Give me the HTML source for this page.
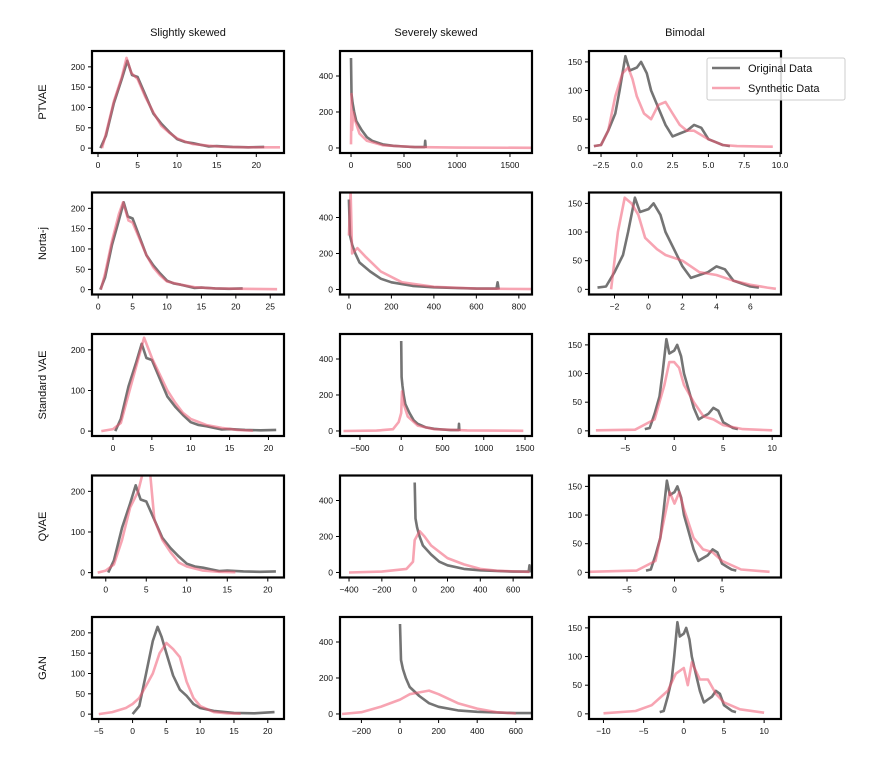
<!DOCTYPE html>
<html><head><meta charset="utf-8">
<style>
body{margin:0;background:#fff;}
svg{display:block;font-family:"Liberation Sans","DejaVu Sans",sans-serif;}
</style></head>
<body>
<svg id="chart" width="894" height="777" viewBox="0 0 894 777"></svg>
<script>
// ---- data (x,y pairs) ----
const colTitles = ["Slightly skewed","Severely skewed","Bimodal"];
const rowLabels = ["PTVAE","Norta-j","Standard VAE","QVAE","GAN"];

const origSlight = [[0.3,0],[1,30],[2,110],[3,170],[3.7,215],[4.3,180],[5,175],[6,130],[7,85],[8,60],[9,40],[10,22],[11,15],[12,12],[13,8],[14,4],[15,5],[17,3],[19,2],[21,3]];
const origSlight5 = [[0,0],[1,20],[2,100],[3,180],[3.7,215],[4.3,190],[5,150],[6,95],[7,60],[8,45],[9,25],[10,15],[12,8],[15,3],[18,2],[21,5]];
const synSlight1 = [[0.5,0],[1,35],[2,115],[3,175],[3.6,222],[4.2,185],[5,170],[6,125],[7,88],[8,55],[9,38],[10,24],[11,16],[12,10],[14,6],[16,3],[19,2],[23,2]];
const synSlight2 = [[0.4,0],[1,40],[2,120],[3,185],[3.6,215],[4.4,170],[5,165],[6,125],[7,85],[8,55],[9,35],[10,20],[12,12],[14,6],[17,3],[21,2],[26,1]];
const synSlight3 = [[-1.5,0],[0,5],[1,20],[2,90],[3,160],[4,230],[5,180],[6,140],[7,100],[8,70],[9,45],[10,30],[12,15],[14,8],[16,3],[18,1]];
const synSlight4 = [[-1,0],[0,5],[1,20],[2,80],[3,160],[4,200],[4.5,240],[5.5,240],[6,130],[7,80],[8,50],[9,25],[10,15],[12,5],[14,2],[16,1]];
const synSlight5 = [[-5,0],[-3,5],[-1,15],[0,25],[1,40],[2,70],[3,100],[4,150],[5,175],[6,160],[7,140],[8,80],[9,40],[10,20],[12,5],[14,2],[16,1]];

const origSevere = [[0,500],[5,300],[15,250],[30,200],[50,150],[100,100],[150,60],[200,40],[300,20],[400,12],[500,8],[600,5],[695,5],[700,40],[705,0]];
const synSevere1 = [[0,20],[5,300],[10,100],[20,200],[40,150],[80,80],[150,40],[300,15],[600,5],[1000,2],[1700,1]];
const synSevere2 = [[0,300],[8,550],[15,200],[40,230],[80,180],[150,100],[250,40],[400,15],[600,5],[880,2]];
const synSevere3 = [[-700,0],[-300,2],[-100,10],[-30,50],[0,100],[10,220],[30,150],[80,80],[200,30],[400,10],[800,3],[1480,1]];
const synSevere4 = [[-400,0],[-200,5],[-50,20],[-10,60],[0,180],[30,230],[60,200],[100,150],[200,80],[300,45],[400,20],[500,10],[700,3]];
const synSevere5 = [[-300,0],[-200,10],[-100,40],[0,80],[50,110],[100,120],[150,130],[200,110],[300,60],[400,30],[500,10],[600,3]];

const origBimodal = [[-3,3],[-2.5,5],[-2,30],[-1.5,60],[-1.2,100],[-0.8,160],[-0.5,135],[0,140],[0.3,150],[0.7,130],[1,100],[1.5,70],[2,40],[2.5,20],[3,25],[3.5,30],[4,40],[4.5,35],[5,15],[5.5,10],[6,5],[6.5,3]];
const synBimodal1 = [[-3,3],[-2.5,5],[-2,30],[-1.5,90],[-1,130],[-0.6,140],[-0.3,120],[0,90],[0.5,60],[1,50],[1.5,75],[2,80],[2.5,60],[3,40],[3.5,30],[4,30],[5,15],[6,5],[7,3],[9.5,2]];
const synBimodal2 = [[-2.2,0],[-1.8,100],[-1.4,160],[-1,150],[-0.6,130],[-0.2,90],[0.5,70],[1,60],[2,50],[3,30],[4,25],[5,15],[6,8],[7,3],[7.5,1]];
const synBimodal3 = [[-8,1],[-4,2],[-2,20],[-1,80],[-0.5,120],[0,120],[0.5,110],[1,80],[2,50],[3,25],[4,20],[5,10],[7,3],[10,1]];
const synBimodal4 = [[-9,1],[-4,3],[-2,20],[-1,100],[-0.5,140],[0,120],[0.5,140],[1,110],[2,60],[3,40],[4,35],[5,20],[7,5],[10,1]];
const synBimodal5 = [[-10,1],[-6,5],[-4,15],[-2,40],[-1,70],[0,80],[0.5,50],[1,90],[2,60],[3,60],[4,35],[5,20],[7,8],[10,2]];

const xTicks = [
 [[0,5,10,15,20],[0,500,1000,1500],[-2.5,0,2.5,5,7.5,10]],
 [[0,5,10,15,20,25],[0,200,400,600,800],[-2,0,2,4,6]],
 [[0,5,10,15,20],[-500,0,500,1000,1500],[-5,0,5,10]],
 [[0,5,10,15,20],[-400,-200,0,200,400,600],[-5,0,5]],
 [[-5,0,5,10,15,20],[-200,0,200,400,600],[-10,-5,0,5,10]]
];
const xTickLabels3 = ["\u22122.5","0.0","2.5","5.0","7.5","10.0"];
const yTicksSlight = [[0,50,100,150,200],[0,50,100,150,200],[0,100,200],[0,100,200],[0,50,100,150,200]];
const yTicksSevere = [0,200,400];
const yTicksBimodal = [0,50,100,150];

// scale settings
const xDom = [
 [[-0.76,23.5],[-104,1708],[-3.34,10.07]],
 [[-0.9,27],[-42,862],[-3.5,7.8]],
 [[-2.7,22],[-742,1585],[-8.7,10.9]],
 [[-1.7,22],[-455,715],[-9,11.2]],
 [[-6,22.4],[-311,684],[-11.8,12.1]]
];
const yDom = [[-12,239],[-28,539],[-9,169]];
const origSets = [[origSlight,origSlight,origSlight,origSlight,origSlight5],[origSevere,origSevere,origSevere,origSevere,origSevere],[origBimodal,origBimodal,origBimodal,origBimodal,origBimodal]];
const synSets = [[synSlight1,synSlight2,synSlight3,synSlight4,synSlight5],[synSevere1,synSevere2,synSevere3,synSevere4,synSevere5],[synBimodal1,synBimodal2,synBimodal3,synBimodal4,synBimodal5]];

const NS="http://www.w3.org/2000/svg";
const svg=document.getElementById('chart');
function mk(tag,attrs,parent){const e=document.createElementNS(NS,tag);for(const k in attrs)e.setAttribute(k,attrs[k]);(parent||svg).appendChild(e);return e;}
const colX=[92,340,589], W=192, rowY=[51,192.5,334,475.5,617], H=102;
function fmt(v){return v<0?"\u2212"+Math.abs(v):String(v);}

colTitles.forEach((t,c)=>{
  const e=mk('text',{x:colX[c]+W/2,y:36,'text-anchor':'middle','font-size':11,fill:'#111'});
  e.textContent=t;
  
  
});
rowLabels.forEach((t,r)=>{
  const cy=rowY[r]+H/2;
  const e=mk('text',{x:46,y:cy,'text-anchor':'middle','font-size':11,fill:'#111',transform:`rotate(-90 46 ${cy})`});
  e.textContent=t;
  
  
});

for(let r=0;r<5;r++)for(let c=0;c<3;c++){
  const g=mk('g',{});
  
  
  const x0=colX[c], y0=rowY[r];
  const [xa,xb]=xDom[r][c], [ya,yb]=yDom[c];
  const sx=v=>x0+(v-xa)/(xb-xa)*W;
  const sy=v=>y0+H-(v-ya)/(yb-ya)*H;
  const clipId='clip'+r+c;
  const cp=mk('clipPath',{id:clipId},g); mk('rect',{x:x0,y:y0,width:W,height:H},cp);
  const line=(pts,col,w,name)=>{
    const p=mk('polyline',{points:pts.map(p=>sx(p[0]).toFixed(1)+','+sy(p[1]).toFixed(1)).join(' '),fill:'none',stroke:col,'stroke-width':w,'stroke-linejoin':'round','clip-path':`url(#${clipId})`},g);
    
    
  };
  line(origSets[c][r],'rgba(70,70,70,0.75)',2.6,'original-data-line');
  line(synSets[c][r],'rgba(240,90,115,0.55)',2.6,'synthetic-data-line');
  const fr=mk('rect',{x:x0,y:y0,width:W,height:H,fill:'none',stroke:'#000','stroke-width':2.2},g);
  
  
  xTicks[r][c].forEach((v,i)=>{
    const x=sx(v);
    mk('line',{x1:x,x2:x,y1:y0+H,y2:y0+H+4,stroke:'#000','stroke-width':1},g);
    const t=mk('text',{x:x,y:y0+H+15,'text-anchor':'middle','font-size':8.5,fill:'#111'},g);
    t.textContent=(r===0&&c===2)?xTickLabels3[i]:fmt(v);
    
    
  });
  const yt=c===0?yTicksSlight[r]:(c===1?yTicksSevere:yTicksBimodal);
  yt.forEach(v=>{
    const y=sy(v);
    mk('line',{x1:x0-4,x2:x0,y1:y,y2:y,stroke:'#000','stroke-width':1},g);
    const t=mk('text',{x:x0-7,y:y+3,'text-anchor':'end','font-size':8.5,fill:'#111'},g);
    t.textContent=fmt(v);
    
    
  });
}

// legend
const lg=mk('g',{});


mk('rect',{x:707,y:58,width:138,height:42,fill:'rgba(255,255,255,0.85)',stroke:'#ccc','stroke-width':1,rx:2},lg);
mk('line',{x1:712,x2:740,y1:68,y2:68,stroke:'rgba(70,70,70,0.75)','stroke-width':2.6},lg);
mk('line',{x1:712,x2:740,y1:88,y2:88,stroke:'rgba(240,90,115,0.55)','stroke-width':2.6},lg);
const l1=mk('text',{x:748,y:72,'font-size':11,fill:'#111'},lg); l1.textContent='Original Data';


const l2=mk('text',{x:748,y:92,'font-size':11,fill:'#111'},lg); l2.textContent='Synthetic Data';


</script>
</body></html>
